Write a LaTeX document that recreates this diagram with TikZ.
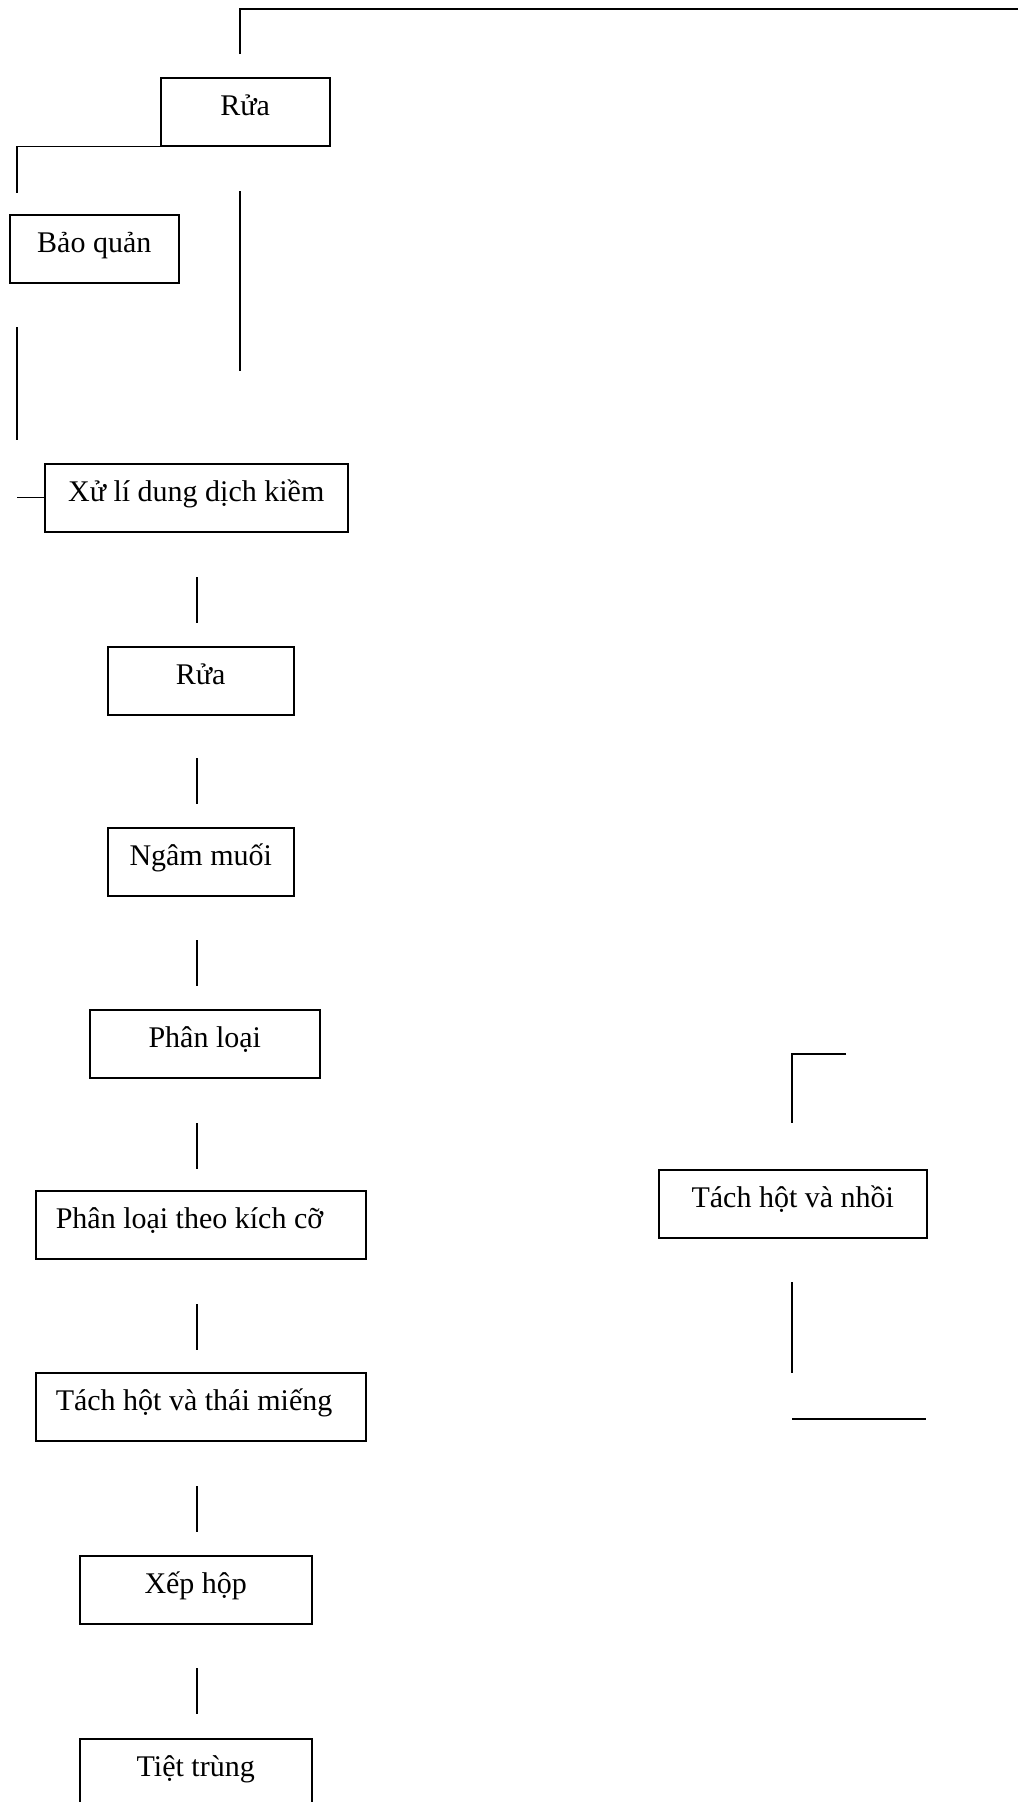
\documentclass[tikz,border=0pt]{standalone}
\usepackage{fontspec}
\setmainfont{Liberation Serif}
\usepackage{tikz}
\usetikzlibrary{positioning}

\begin{document}
\begin{tikzpicture}[
        x=1pt, y=-1pt,
        buoc/.style={draw, line width=1.5pt, anchor=north west, inner sep=0pt,
            minimum height=68pt, text height=38pt, text depth=30pt,
            font=\fontsize{30}{36}\selectfont},
        buoctrai/.style={buoc, align=flush left, text width=#1, inner xsep=20pt},
        noi/.style={line width=1.4pt}
    ]
    \useasboundingbox (0,0) rectangle (1018,1802);
    % cac buoc chinh
    \node[buoc, minimum width=169pt] (rua1) at (160,77) {Rửa};
    \node[buoc, minimum width=169pt] (baoquan) at (9,214) {Bảo quản};
    \node[buoc, minimum width=303pt] (xuli) at (44,463) {Xử lí dung dịch kiềm};
    \node[buoc, minimum width=186pt] (rua2) at (107,646) {Rửa};
    \node[buoc, minimum width=186pt] (ngam) at (107,827) {Ngâm muối};
    \node[buoc, minimum width=230pt] (phanloai) at (89,1009) {Phân loại};
    \node[buoctrai=290pt] (kichco) at (35,1190) {Phân loại theo kích cỡ};
    \node[buoctrai=290pt] (thaimieng) at (35,1372) {Tách hột và thái miếng};
    \node[buoc, minimum width=232pt] (xephop) at (79,1555) {Xếp hộp};
    \node[buoc, minimum width=232pt] (tiettrung) at (79,1738) {Tiệt trùng};
    \node[buoc, minimum width=268pt] (nhoi) at (658,1169) {Tách hột và nhồi};
    % cac doan noi
    \draw[noi] (240,54) -- (240,9) -- (1018,9);
    \draw[noi] (rua1.south west) -- ++(-143,0) -- ++(0,46);
    \draw[noi] (240,191) -- (240,371);
    \draw[noi] (17,327) -- (17,440);
    \draw[noi] (xuli.west) -- ++(-27,0);
    \foreach \y in {577,758,940,1123,1304,1486,1668}
        \draw[noi] (197,\y) -- (197,\y+46);
    \draw[noi] (846,1054) -- (792,1054) -- (792,1123);
    \draw[noi] (792,1282) -- (792,1373);
    \draw[noi] (792,1419) -- (926,1419);
\end{tikzpicture}
\end{document}
